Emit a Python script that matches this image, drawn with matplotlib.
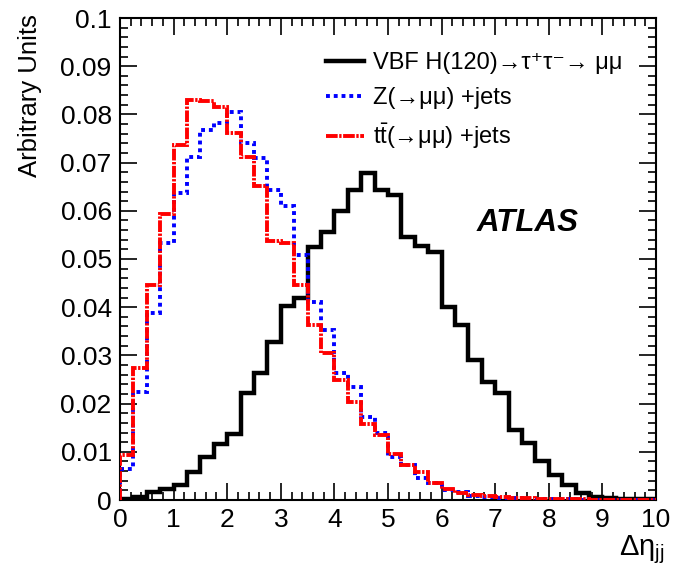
import numpy as np
import matplotlib
matplotlib.use('Agg')
import matplotlib.pyplot as plt
from matplotlib.lines import Line2D
from matplotlib.ticker import MultipleLocator

plt.rcParams['font.family'] = ['Liberation Sans', 'DejaVu Sans']
plt.rcParams['mathtext.fontset'] = 'custom'
plt.rcParams['mathtext.rm'] = 'Liberation Sans'
plt.rcParams['mathtext.it'] = 'Liberation Sans:italic'

# bin edges of the delta-eta(jj) histograms (0.25 wide)
edges = np.linspace(0, 10, 41)

vbf = [0.0003, 0.0007, 0.0017, 0.0022, 0.0032, 0.0059, 0.0090, 0.0116, 0.0136, 0.0222,
       0.0264, 0.0328, 0.0402, 0.0420, 0.0524, 0.0557, 0.0600, 0.0644, 0.0678, 0.0644,
       0.0633, 0.0546, 0.0526, 0.0515, 0.0401, 0.0363, 0.0290, 0.0245, 0.0221, 0.0145,
       0.0118, 0.0080, 0.0052, 0.0031, 0.0014, 0.0007, 0.0004, 0.0003, 0.0002, 0.0002]

zjets = [0.0064, 0.0224, 0.0388, 0.0533, 0.0636, 0.0712, 0.0768, 0.0783, 0.0806, 0.0740,
         0.0709, 0.0644, 0.0610, 0.0508, 0.0411, 0.0353, 0.0263, 0.0234, 0.0173, 0.0138,
         0.0090, 0.0073, 0.0045, 0.0035, 0.0020, 0.0016, 0.0009, 0.0007, 0.0005, 0.0004,
         0.0003, 0.0003, 0.0002, 0.0002, 0.0001, 0.0001, 0.0001, 0.0001, 0.0001, 0.0001]

ttbar = [0.0094, 0.0273, 0.0446, 0.0593, 0.0737, 0.0829, 0.0828, 0.0816, 0.0762, 0.0712,
         0.0652, 0.0537, 0.0534, 0.0446, 0.0363, 0.0304, 0.0249, 0.0204, 0.0158, 0.0135,
         0.0096, 0.0073, 0.0059, 0.0035, 0.0022, 0.0015, 0.0011, 0.0008, 0.0006, 0.0005,
         0.0004, 0.0003, 0.0003, 0.0002, 0.0002, 0.0001, 0.0001, 0.0001, 0.0001, 0.0001]

labels = ['VBF H(120)→τ⁺τ⁻→ μμ',
          'Z(→μμ) +jets',
          r't$\bar{\mathrm{t}}$(→μμ) +jets']

blue_ls = (0, (1, 1))
red_ls = (0, (3, 0.4, 0.6, 0.4))

fig = plt.figure(figsize=(6.74, 5.74), dpi=100)
ax = fig.add_axes([120 / 674, 1 - 500 / 574, 536 / 674, 482 / 574])

ax.stairs(vbf, edges, color='black', lw=3.2, zorder=3)
ax.stairs(zjets, edges, color='blue', lw=2.8, linestyle=blue_ls, zorder=4)
ax.stairs(ttbar, edges, color='red', lw=2.8, linestyle=red_ls, zorder=5)

ax.set_xlim(0, 10)
ax.set_ylim(0, 0.1)
ax.xaxis.set_major_locator(MultipleLocator(1))
ax.xaxis.set_minor_locator(MultipleLocator(0.2))
ax.yaxis.set_major_locator(MultipleLocator(0.01))
ax.yaxis.set_minor_locator(MultipleLocator(0.002))
ax.set_yticks(np.arange(0, 0.101, 0.01))
ax.set_yticklabels(['0', '0.01', '0.02', '0.03', '0.04', '0.05', '0.06', '0.07', '0.08', '0.09', '0.1'])
ax.tick_params(which='both', direction='in', top=True, right=True, width=1.2, labelsize=19)
ax.tick_params(which='major', length=12, pad=6)
ax.tick_params(which='minor', length=6)
for s in ax.spines.values():
    s.set_linewidth(1.5)

fig.text(30 / 674, 1 - 14 / 574, 'Arbitrary Units', rotation=90, ha='center', va='top', fontsize=18.5)
fig.text(665 / 674, 1 - 533 / 574, r'$\mathrm{\Delta\eta}_{\mathrm{jj}}$', ha='right', va='top', fontsize=21)

ax.text(6.65, 0.0575, 'ATLAS', fontsize=22.5, fontweight='bold', fontstyle='italic', va='center')

handles = [Line2D([], [], color='black', lw=3.2),
           Line2D([], [], color='blue', lw=2.8, linestyle=blue_ls),
           Line2D([], [], color='red', lw=2.8, linestyle=red_ls)]
ax.legend(handles, labels, loc='upper left', bbox_to_anchor=(326 / 674, 1 - 52 / 574),
          bbox_transform=fig.transFigure, frameon=False, fontsize=17, borderpad=0,
          borderaxespad=0, handlelength=1.6, handletextpad=0.4, labelspacing=0.55)

fig.savefig('out.png', dpi=100)
